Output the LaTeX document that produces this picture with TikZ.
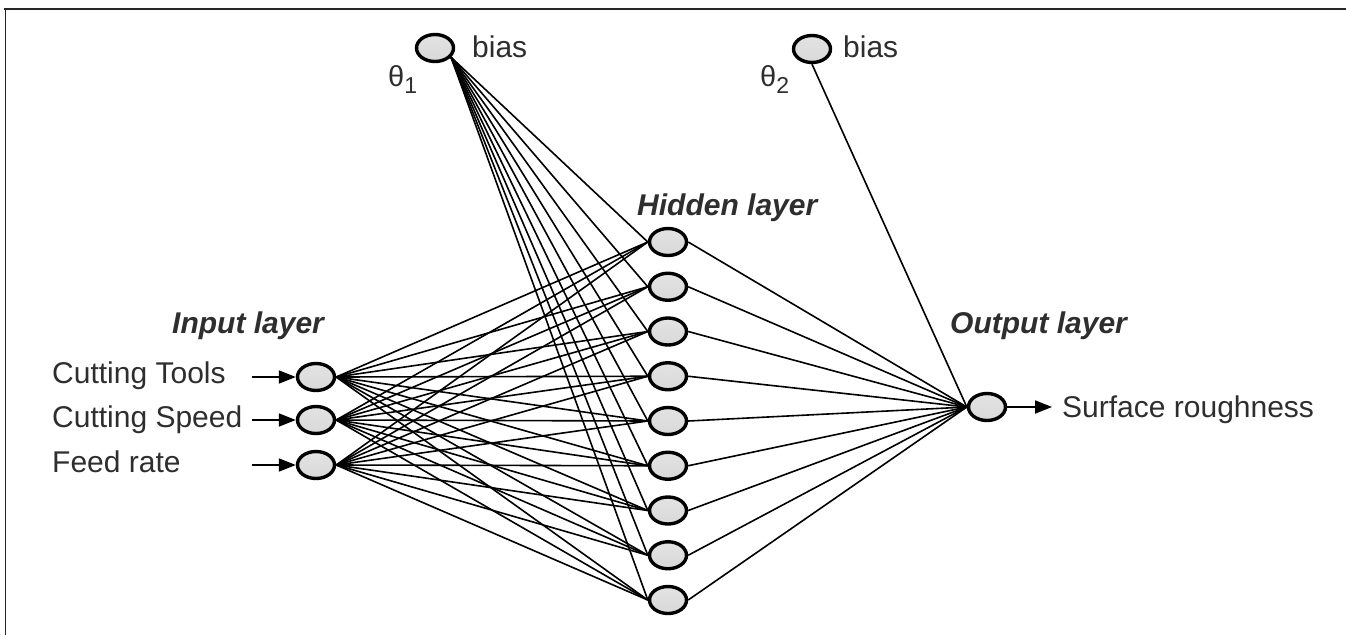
\documentclass[tikz,border=0pt]{standalone}
\usepackage{fontspec}
\setmainfont{Liberation Sans}
\usetikzlibrary{arrows.meta,shapes.geometric}
\begin{document}
\begin{tikzpicture}[x=1pt,y=-1pt,
  neuron/.style={ellipse, draw=black, line width=3.4pt, minimum width=37pt,
    minimum height=27pt, inner sep=0pt,
    top color=gray!22, middle color=white, bottom color=gray!30},
  conn/.style={draw=black, line width=1.6pt},
  feed/.style={draw=black, line width=1.8pt,
    -{Triangle[length=17pt,width=13pt]}},
  lbl/.style={font=\fontsize{30}{36}\selectfont, text=black!82,
    inner sep=0pt, anchor=base west},
  head/.style={lbl, font=\fontsize{30}{36}\selectfont\bfseries\itshape},
  theta/.style={lbl, font=\fontsize{29}{34}\selectfont}]
\useasboundingbox (0,0) rectangle (1346,635);

% frame
\draw[line width=2.5pt, black!85] (4,9) -- (1346,9);
\draw[line width=1.5pt, black!85] (5.5,9) -- (5.5,635);

% neurons
\node[neuron] (b1) at (435,48) {};
\node[neuron] (b2) at (812,49) {};
\foreach \i/\y in {1/377,2/420,3/465}
  \node[neuron] (in\i) at (316,\y) {};
\foreach \j in {1,...,9}
  \node[neuron] (h\j) at (668,{242+(\j-1)*44.75}) {};
\node[neuron] (out) at (987,407) {};

% weights
\foreach \i in {1,2,3}
  \foreach \j in {1,...,9}
    \draw[conn] (in\i.east) -- (h\j.west);
\foreach \j in {1,...,9}
  \draw[conn] (b1.-30) -- (h\j.west);
\foreach \j in {1,...,9}
  \draw[conn] (h\j.east) -- (out.west);
\draw[conn] (b2.south) -- (out.west);

% inputs and output
\coordinate (s1) at (252,377);
\coordinate (s2) at (252,420);
\coordinate (s3) at (252,465);
\foreach \i in {1,2,3}
  \draw[feed] (s\i) -- (in\i.west);
\coordinate (y) at (1052,407);
\draw[feed] (out.east) -- (y);

% labels
\node[lbl] (t1) at (52,383) {Cutting Tools};
\node[lbl] (t2) at (52,427) {Cutting Speed};
\node[lbl] (t3) at (52,472) {Feed rate};
\node[lbl] (ty) at (1062,417) {Surface roughness};
\node[head] (li) at (172,333) {Input layer};
\node[head] (lh) at (637,215) {Hidden layer};
\node[head] (lo) at (950,333) {Output layer};
\node[lbl] (bl1) at (472,57) {bias};
\node[lbl] (bl2) at (843,57) {bias};
\node[theta] (th1) at (388,86)
  {θ\raisebox{-7pt}{\fontsize{23}{23}\selectfont 1}};
\node[theta] (th2) at (760,86)
  {θ\raisebox{-7pt}{\fontsize{23}{23}\selectfont 2}};
\end{tikzpicture}
\end{document}
